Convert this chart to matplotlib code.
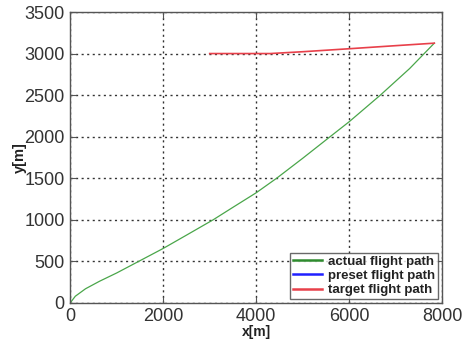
import matplotlib
matplotlib.use("Agg")
import matplotlib.pyplot as plt

plt.rcParams['font.family'] = ['Liberation Sans', 'DejaVu Sans']

# actual flight path (x, y in metres)
actual_x = [0, 110, 330, 630, 1000, 1400, 2000, 2500, 3075, 3500, 4000, 4440, 5000,
            5590, 6000, 6670, 7300, 7830]
actual_y = [0, 80, 170, 260, 360, 478, 655, 815, 1000, 1150, 1325, 1500, 1740,
            2000, 2180, 2500, 2820, 3125]

# preset flight path (not shown)
preset_x = []
preset_y = []

# target flight path
target_x = [3000, 4300, 5000, 6000, 7000, 7830]
target_y = [3000, 3000, 3022, 3058, 3095, 3125]

fig = plt.figure(figsize=(4.65, 3.43), dpi=100)
ax = fig.add_axes([0.151, 0.117, 0.800, 0.848])

ax.plot(actual_x, actual_y, color='#4aa64a', linewidth=0.9, label='actual flight path')
ax.plot(preset_x, preset_y, color='#1f1fff', linewidth=1.5, label='preset flight path')
ax.plot(target_x, target_y, color='#e8404a', linewidth=1.2, label='target flight path')

ax.set_xlim(0, 8000)
ax.set_ylim(0, 3500)
ax.set_xticks([0, 2000, 4000, 6000, 8000])
ax.set_yticks(range(0, 3501, 500))
ax.grid(True, color='#333333', linestyle=(0, (1.5, 2.5)), linewidth=1.0)
ax.tick_params(direction='in', labelsize=13, labelcolor='#333333', color='#555555',
               top=True, right=True, length=4)
ax.tick_params(axis='x', pad=4)
ax.tick_params(axis='y', pad=4)
for s in ax.spines.values():
    s.set_color('#555555')
    s.set_linewidth(1.0)

ax.set_xlabel('x[m]', fontsize=10, fontweight='bold', labelpad=0, color='#222222')
ax.set_ylabel('y[m]', fontsize=10.5, fontweight='bold', labelpad=-2, color='#222222')

leg = ax.legend(loc='lower right', prop={'weight': 'bold', 'size': 9.5},
                frameon=True, fancybox=False, borderpad=0.2, labelspacing=0.15,
                handlelength=2.2, handletextpad=0.5, borderaxespad=0.3)
leg.get_frame().set_edgecolor('#444444')
leg.get_frame().set_linewidth(1.0)
for h in leg.legend_handles:
    h.set_linewidth(1.8)
leg.legend_handles[0].set_color('#2e8b2e')
for t in leg.get_texts():
    t.set_color('#222222')

fig.savefig('out.png', dpi=100)
